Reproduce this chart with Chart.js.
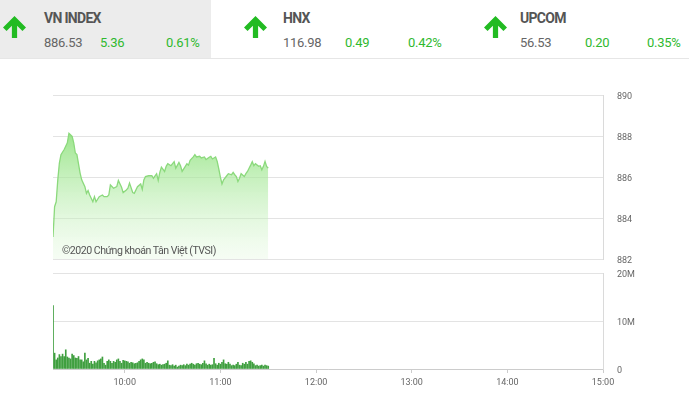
<!DOCTYPE html>
<html>
<head>
<meta charset="utf-8">
<script src="https://cdn.jsdelivr.net/npm/chart.js@4/dist/chart.umd.min.js"></script>
<style>
body{margin:0;width:689px;height:393px;background:#fff;font-family:Roboto,sans-serif;position:relative;overflow:hidden}
.hdr{position:absolute;left:0;top:0;width:689px;height:58px;border-bottom:1px solid #e6e6e6}
.on{position:absolute;left:0;top:0;width:211px;height:58px;background:#ececec}
.t{position:absolute;white-space:nowrap;line-height:14px}
.name{font-weight:bold;font-size:14px;color:#555;letter-spacing:-0.7px;top:11px}
.num{font-size:13px;color:#666;top:36px;letter-spacing:-0.3px}
.up{color:#2fb92f}
.arr{position:absolute;top:16px}
#copy{position:absolute;left:62px;top:244px;font-size:10.6px;color:#555;letter-spacing:-0.5px;z-index:2}
canvas{position:absolute;left:0}
</style>
</head>
<body>
<div class="hdr">
  <div class="on"></div>
</div>
<div id="head"></div>
<canvas id="price" width="689" height="185" style="top:85px"></canvas>
<canvas id="vol" width="689" height="131" style="top:262px"></canvas>
<div id="copy">©2020 Chứng khoán Tân Việt (TVSI)</div>
<script>
// header quotes
const indexNames = ["VN INDEX", "HNX", "UPCOM"];
const indexValues = ["886.53", "116.98", "56.53"];
const indexChanges = ["5.36", "0.49", "0.20"];
const indexPercents = ["0.61%", "0.42%", "0.35%"];

// VN-Index intraday (time, points)
const priceTimes = ["9:15","9:16","9:17","9:18","9:19","9:20","9:22","9:24","9:25","9:27","9:28","9:29","9:30","9:32","9:33","9:35","9:36","9:37","9:38","9:40","9:41","9:42","9:44","9:46","9:47","9:49","9:50","9:51","9:53","9:55","9:56","9:58","9:59","10:01","10:02","10:03","10:05","10:06","10:08","10:10","10:11","10:12","10:13","10:15","10:17","10:18","10:20","10:21","10:22","10:23","10:25","10:26","10:27","10:29","10:31","10:32","10:33","10:34","10:35","10:36","10:38","10:39","10:40","10:41","10:43","10:44","10:45","10:47","10:48","10:50","10:51","10:53","10:54","10:55","10:57","10:58","10:59","11:00","11:01","11:02","11:04","11:05","11:07","11:08","11:09","11:10","11:11","11:12","11:13","11:15","11:16","11:17","11:18","11:19","11:20","11:21","11:22","11:24","11:25","11:26","11:27","11:28","11:29","11:30"];
const priceValues = [883.07,884.55,884.79,885.86,886.68,887.09,887.34,887.67,888.13,887.98,887.67,887.17,887.09,886.19,885.86,885.53,885.20,885.34,885.12,884.79,885.04,884.79,885.04,885.12,885.04,885.04,885.12,885.61,885.45,885.53,885.83,885.50,885.24,885.37,885.45,885.70,885.24,885.20,885.53,885.66,885.40,885.86,886.02,886.06,886.06,885.94,886.16,885.83,886.22,886.48,886.27,886.52,886.65,886.55,886.75,886.43,886.57,886.71,886.55,886.27,886.52,886.65,886.58,886.81,886.98,887.09,886.98,887.01,886.93,886.98,886.85,886.96,887.01,886.88,886.98,886.76,886.39,885.99,885.66,885.86,886.06,886.16,886.11,886.22,886.11,886.02,885.78,885.94,886.16,886.02,886.16,886.27,886.43,886.58,886.75,886.55,886.65,886.52,886.55,886.35,886.52,886.76,886.52,886.43];

// volume per minute from 9:15, millions of shares
const volStart = "9:15";
const volumes = [13.2,3.3,1.9,2.3,3.0,2.6,3.1,2.6,4.0,2.5,2.3,2.1,3.1,2.8,2.3,2.2,2.6,1.9,1.9,1.5,3.3,1.9,2.2,1.2,1.6,1.0,1.6,1.3,1.7,1.9,2.1,2.5,1.2,0.8,1.6,1.9,1.6,1.2,1.6,1.4,1.9,2.1,1.6,1.2,1.8,1.7,1.6,1.5,1.2,1.4,1.3,1.1,1.2,1.3,1.6,1.9,2.1,1.9,1.2,1.4,1.2,1.1,1.2,1.4,1.5,1.1,0.9,1.0,0.8,0.9,1.0,1.2,1.7,0.8,0.7,0.9,0.6,0.8,0.4,0.6,0.8,0.7,0.9,0.7,1.0,0.8,1.0,1.2,1.0,0.8,1.1,1.2,1.0,0.9,1.2,1.7,1.1,0.8,1.0,0.8,0.9,2.2,1.1,0.8,1.2,1.0,1.4,1.9,1.1,1.0,1.4,1.0,0.7,0.8,0.7,1.0,1.4,0.8,0.7,1.2,1.0,1.4,1.0,1.6,1.7,1.4,1.1,0.7,0.8,0.6,0.7,0.8,0.6,0.8,0.7,0.6];

const sessionStart = "9:15";
const sessionEnd = "15:00";
const timeTicks = ["10:00","11:00","12:00","13:00","14:00","15:00"];
const priceTicks = [882,884,886,888,890];
const volTicks = [0,10,20];

function toMin(t){
    const p = t.split(":");
    return Number(p[0]) * 60 + Number(p[1]);
}
function fmtTime(m){
    const h = Math.floor(m / 60);
    const mm = m % 60;
    return h + ":" + (mm < 10 ? "0" : "") + mm;
}

// header blocks
const arrowX = [3, 244, 484];
const textX = [44, 283, 520];
const changeX = [100, 345, 585];
const pctX = [166, 408, 647];
let html = "";
for(let i = 0; i < indexNames.length; i++){
    html += `<svg class="arr" style="left:${arrowX[i]}px" width="23" height="22" viewBox="0 0 22 21">
      <path d="M11 0 L22 11 L18.6 14.4 L13.5 9.3 L13.5 21 L8.5 21 L8.5 9.3 L3.4 14.4 L0 11 Z" fill="#22bb22"/></svg>`;
    html += `<div class="t name" style="left:${textX[i]}px">${indexNames[i]}</div>`;
    html += `<div class="t num" style="left:${textX[i]}px">${indexValues[i]}</div>`;
    html += `<div class="t num up" style="left:${changeX[i]}px">${indexChanges[i]}</div>`;
    html += `<div class="t num up" style="left:${pctX[i]}px">${indexPercents[i]}</div>`;
}
document.getElementById("head").innerHTML = html;

const tickFont = {family:"Roboto", size:9};
const xMin = toMin(sessionStart);
const xMax = toMin(sessionEnd);

// right-hand axis: the gap before the labels comes from an invisible tick mark,
// so no extra vertical padding is added to the scale
function rightAxis(min, max, ticks, fmt){
    return {
        position:"right",
        min:min,
        max:max,
        afterBuildTicks:s => { s.ticks = ticks.map(v => ({value:v})); },
        afterFit:s => { s.width = 86; },
        grid:{color:"#e3e3e3", drawTicks:true, tickLength:14, tickColor:"rgba(0,0,0,0)"},
        border:{display:true, color:"#dadada"},
        ticks:{padding:0, labelOffset:2, color:"#666", font:tickFont, callback:fmt}
    };
}

new Chart(document.getElementById("price"), {
    type:"line",
    data:{
        datasets:[{
            data:priceTimes.map((t, i) => ({x:toMin(t), y:priceValues[i]})),
            borderColor:"#8bd97c",
            borderWidth:1.3,
            pointRadius:0,
            tension:0,
            fill:"start",
            backgroundColor:function(context){
                const chart = context.chart;
                const area = chart.chartArea;
                if(!area){
                    return "rgba(140,220,120,0.5)";
                }
                const g = chart.ctx.createLinearGradient(0, area.top + 30, 0, area.bottom);
                g.addColorStop(0, "rgba(128,222,108,0.85)");
                g.addColorStop(1, "rgba(225,248,220,0.3)");
                return g;
            }
        }]
    },
    options:{
        responsive:false,
        animation:false,
        layout:{padding:{left:53, top:10, bottom:11, right:0}},
        plugins:{legend:{display:false}, tooltip:{enabled:false}},
        scales:{
            x:{type:"linear", min:xMin, max:xMax, display:false},
            y:rightAxis(882, 890, priceTicks, v => v)
        }
    }
});

new Chart(document.getElementById("vol"), {
    type:"bar",
    data:{
        datasets:[{
            data:volumes.map((v, i) => ({x:toMin(volStart) + i, y:v})),
            backgroundColor:"#3f9f3f",
            barThickness:1
        }]
    },
    options:{
        responsive:false,
        animation:false,
        layout:{padding:{left:53, top:11, bottom:0, right:0}},
        plugins:{legend:{display:false}, tooltip:{enabled:false}},
        scales:{
            x:{
                type:"linear",
                min:xMin,
                max:xMax,
                offset:false,
                afterBuildTicks:s => { s.ticks = timeTicks.map(t => ({value:toMin(t)})); },
                afterFit:s => { s.height = 24; },
                grid:{drawOnChartArea:false, drawTicks:true, tickLength:4, color:"#cccccc", offset:false},
                border:{display:true, color:"#cccccc"},
                ticks:{padding:4, color:"#666", font:tickFont, maxRotation:0, autoSkip:false,
                    callback:v => fmtTime(v)}
            },
            y:rightAxis(0, 20, volTicks, v => v === 0 ? "0" : v + "M")
        }
    }
});
</script>
</body>
</html>
